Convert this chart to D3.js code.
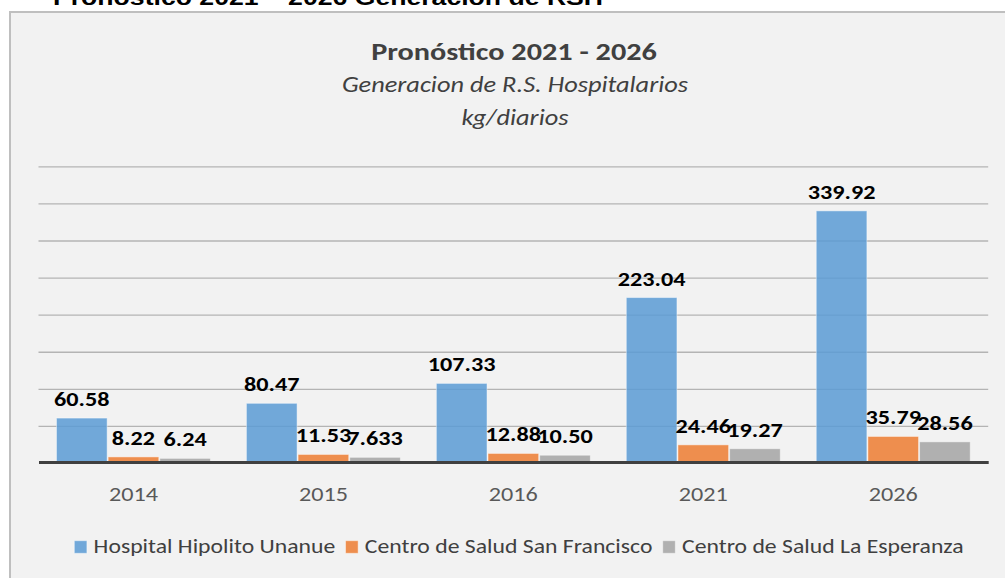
<!DOCTYPE html>
<html>
<head>
<meta charset="utf-8">
<script src="https://cdn.jsdelivr.net/npm/d3@7"></script>
<style>
  html, body { margin: 0; padding: 0; background: #ffffff; }
  svg { display: block; }
  text { font-family: Carlito, Lato, "Open Sans", sans-serif; }
</style>
</head>
<body>
<svg id="chart" width="1005" height="578"></svg>
<script>
// ---- data ----
const categories = ["2014", "2015", "2016", "2021", "2026"];
const seriesNames = [
  "Hospital Hipolito Unanue",
  "Centro de Salud San Francisco",
  "Centro de Salud La Esperanza"
];
// values kept as printed so each label shows the same figure its bar is drawn from
const hospitalHipolitoUnanue = ["60.58", "80.47", "107.33", "223.04", "339.92"];
const centroSanFrancisco     = ["8.22", "11.53", "12.88", "24.46", "35.79"];
const centroLaEsperanza      = ["6.24", "7.633", "10.50", "19.27", "28.56"];
const yTicks = [50, 100, 150, 200, 250, 300, 350, 400];
const seriesColors = ["#5B9BD5", "#ED7D31", "#A5A5A5"];

const seriesValues = [hospitalHipolitoUnanue, centroSanFrancisco, centroLaEsperanza];

// ---- layout ----
const SX = 1.21;                    // horizontal stretch applied to all lettering
const svg = d3.select("#chart");

function stretchedText(parent, x, y, str, anchor) {
  return parent.append("text")
    .attr("transform", `translate(${x},${y}) scale(${SX},1)`)
    .attr("text-anchor", anchor || "middle")
    .text(str);
}

// document heading above the chart frame
stretchedText(svg, 53, 5, "Pronóstico 2021 – 2026 Generación de RSH", "start")
  .style("font-family", "'Liberation Sans', Arial, sans-serif")
  .style("font-weight", "bold")
  .style("font-size", "22px")
  .attr("fill", "#000");

// chart frame
svg.append("rect")
  .attr("x", 10).attr("y", 12)
  .attr("width", 1010).attr("height", 600)
  .attr("fill", "#f2f2f2")
  .attr("stroke", "#bfbfbf")
  .attr("stroke-width", 2);

// titles
stretchedText(svg, 514, 60, "Pronóstico 2021 - 2026")
  .style("font-weight", "bold").style("font-size", "25px").attr("fill", "#404040");
stretchedText(svg, 515, 92, "Generacion de R.S. Hospitalarios")
  .style("font-style", "italic").style("font-size", "21.8px").attr("fill", "#404040");
stretchedText(svg, 515, 125, "kg/diarios")
  .style("font-style", "italic").style("font-size", "21.8px").attr("fill", "#404040");

// scales
const x0 = d3.scaleBand()
  .domain(categories)
  .range([38.5, 988.2])
  .paddingInner(0.184)
  .paddingOuter(0.092);
const x1 = d3.scaleBand()
  .domain(d3.range(seriesNames.length))
  .range([0, x0.bandwidth()]);
const y = d3.scaleLinear().domain([0, 400]).range([463, 166.3]);

// gridlines
const grid = svg.append("g")
  .attr("transform", "translate(38.5,0)")
  .call(d3.axisLeft(y).tickValues(yTicks).tickSize(-(988.2 - 38.5)).tickFormat(""));
grid.select(".domain").remove();
grid.selectAll(".tick line").attr("stroke", "#b4b4b4").attr("stroke-width", 1.3);

// bars
const groups = svg.append("g").selectAll("g")
  .data(categories)
  .join("g")
  .attr("transform", d => `translate(${x0(d)},0)`);

groups.selectAll("rect")
  .data((c, ci) => seriesValues.map((vals, si) => ({ si, v: +vals[ci] })))
  .join("rect")
  .attr("x", d => x1(d.si) + 0.5)
  .attr("width", x1.bandwidth() - 1)
  .attr("y", d => y(d.v))
  .attr("height", d => y(0) - y(d.v))
  .attr("fill", d => seriesColors[d.si])
  .attr("fill-opacity", 0.85)
  .attr("stroke", "#ffffff")
  .attr("stroke-opacity", 0.45)
  .attr("stroke-width", 1);

// x axis baseline and category labels
const xAxis = svg.append("g")
  .attr("transform", `translate(0,${y(0) - 1})`)
  .call(d3.axisBottom(x0).tickSize(0).tickPadding(0));
xAxis.select(".domain").attr("stroke", "#404040").attr("stroke-width", 3);
xAxis.selectAll(".tick text").remove();
xAxis.selectAll(".tick").each(function (d) {
  stretchedText(d3.select(this), 0, 39, d)
    .style("font-size", "20px").attr("fill", "#595959");
});

// data labels
groups.each(function (c, ci) {
  const g = d3.select(this);
  seriesValues.forEach((vals, si) => {
    stretchedText(g, x1(si) + x1.bandwidth() / 2, y(+vals[ci]) - 12, vals[ci])
      .style("font-weight", "bold").style("font-size", "20px").attr("fill", "#000");
  });
});

// legend
const legend = svg.append("g");
const items = seriesNames.map((name, i) => {
  const it = legend.append("g");
  it.append("rect")
    .attr("x", 0).attr("y", -12.3)
    .attr("width", 12.6).attr("height", 12.6)
    .attr("fill", seriesColors[i]).attr("fill-opacity", 0.85)
    .attr("stroke", "#ffffff").attr("stroke-opacity", 0.45);
  const t = stretchedText(it, 19.3, 0, name, "start")
    .style("font-size", "19.6px").attr("fill", "#404040");
  return { it, w: 19.3 + t.node().getComputedTextLength() * SX };
});
const gap = 10.3;
const total = d3.sum(items, d => d.w) + gap * (items.length - 1);
let cx = 519 - total / 2;
items.forEach(d => {
  d.it.attr("transform", `translate(${cx},553)`);
  cx += d.w + gap;
});
</script>
</body>
</html>
